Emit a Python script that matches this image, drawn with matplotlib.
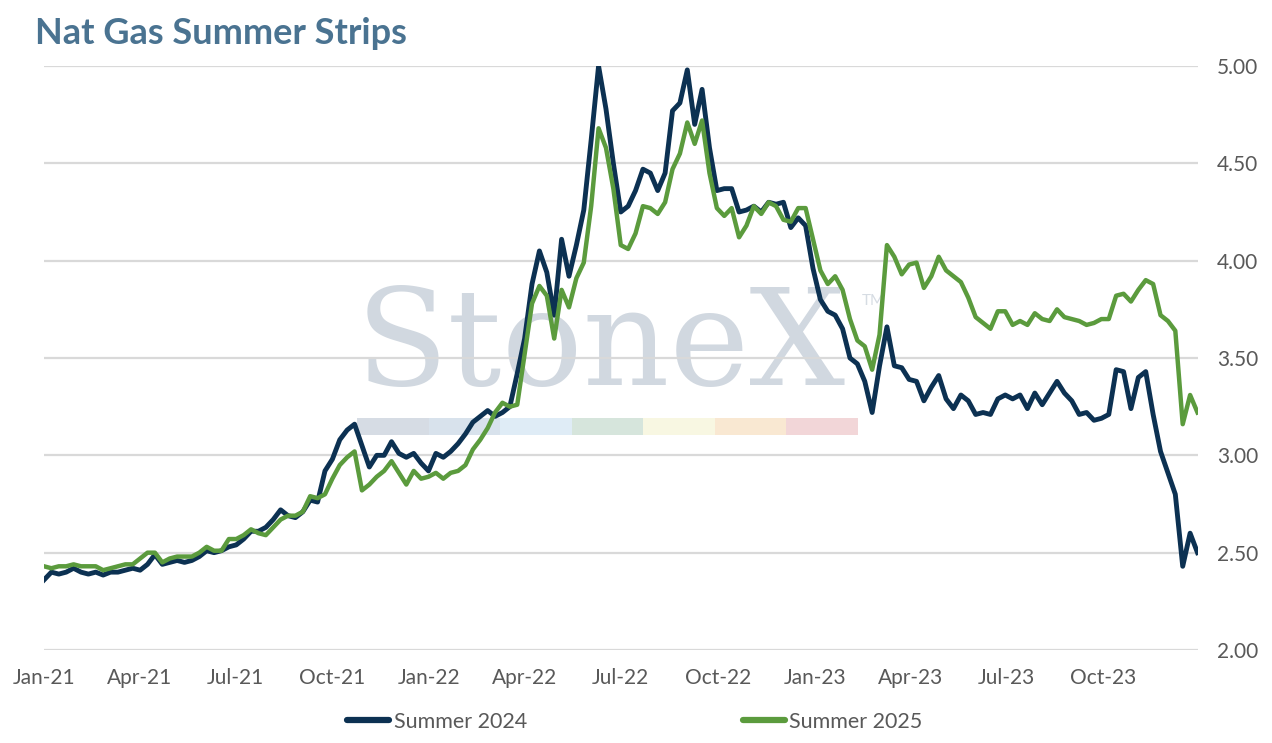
import matplotlib
matplotlib.use("Agg")
import matplotlib.pyplot as plt
import matplotlib.dates as mdates
from matplotlib.patches import Rectangle
import pandas as pd

# ---- data (weekly readings, Fridays starting 2021-01-01) ----
start_date = "2021-01-01"
summer_2024 = [
    2.36, 2.40, 2.39, 2.40, 2.42, 2.40, 2.39, 2.40, 2.385, 2.40,
    2.40, 2.41, 2.42, 2.41, 2.44, 2.49, 2.44, 2.45, 2.46, 2.45,
    2.46, 2.48, 2.51, 2.50, 2.51, 2.53, 2.54, 2.57, 2.61, 2.61,
    2.63, 2.67, 2.72, 2.69, 2.68, 2.71, 2.77, 2.76, 2.92, 2.98,
    3.08, 3.13, 3.16, 3.05, 2.94, 3.00, 3.00, 3.07, 3.01, 2.99,
    3.01, 2.96, 2.92, 3.01, 2.99, 3.02, 3.06, 3.11, 3.17, 3.20,
    3.23, 3.20, 3.22, 3.25, 3.42, 3.60, 3.88, 4.05, 3.94, 3.72,
    4.11, 3.92, 4.08, 4.26, 4.62, 5.00, 4.78, 4.50, 4.25, 4.28,
    4.36, 4.47, 4.45, 4.36, 4.45, 4.77, 4.81, 4.98, 4.70, 4.88,
    4.58, 4.36, 4.37, 4.37, 4.25, 4.26, 4.28, 4.25, 4.30, 4.29,
    4.30, 4.17, 4.22, 4.18, 3.96, 3.80, 3.74, 3.72, 3.65, 3.50,
    3.47, 3.38, 3.22, 3.46, 3.66, 3.46, 3.45, 3.39, 3.38, 3.28,
    3.35, 3.41, 3.29, 3.24, 3.31, 3.28, 3.21, 3.22, 3.21, 3.29,
    3.31, 3.29, 3.31, 3.24, 3.32, 3.26, 3.32, 3.38, 3.32, 3.28,
    3.21, 3.22, 3.18, 3.19, 3.21, 3.44, 3.43, 3.24, 3.40, 3.43,
    3.21, 3.02, 2.91, 2.80, 2.43, 2.60, 2.50,
]
summer_2025 = [
    2.43, 2.42, 2.43, 2.43, 2.44, 2.43, 2.43, 2.43, 2.41, 2.42,
    2.43, 2.44, 2.44, 2.47, 2.50, 2.50, 2.45, 2.47, 2.48, 2.48,
    2.48, 2.50, 2.53, 2.51, 2.51, 2.57, 2.57, 2.59, 2.62, 2.60,
    2.59, 2.63, 2.67, 2.69, 2.69, 2.71, 2.79, 2.78, 2.80, 2.88,
    2.95, 2.99, 3.02, 2.82, 2.85, 2.89, 2.92, 2.97, 2.91, 2.85,
    2.92, 2.88, 2.89, 2.91, 2.88, 2.91, 2.92, 2.95, 3.03, 3.08,
    3.14, 3.22, 3.27, 3.25, 3.26, 3.52, 3.78, 3.87, 3.82, 3.60,
    3.85, 3.76, 3.91, 3.99, 4.28, 4.68, 4.58, 4.37, 4.08, 4.06,
    4.14, 4.28, 4.27, 4.24, 4.30, 4.47, 4.55, 4.71, 4.60, 4.72,
    4.45, 4.27, 4.23, 4.27, 4.12, 4.18, 4.28, 4.24, 4.30, 4.28,
    4.21, 4.20, 4.27, 4.27, 4.11, 3.95, 3.88, 3.92, 3.85, 3.70,
    3.59, 3.56, 3.44, 3.62, 4.08, 4.02, 3.93, 3.98, 3.99, 3.86,
    3.92, 4.02, 3.95, 3.92, 3.89, 3.81, 3.71, 3.68, 3.65, 3.74,
    3.74, 3.67, 3.69, 3.67, 3.73, 3.70, 3.69, 3.75, 3.71, 3.70,
    3.69, 3.67, 3.68, 3.70, 3.70, 3.82, 3.83, 3.79, 3.85, 3.90,
    3.88, 3.72, 3.69, 3.64, 3.16, 3.31, 3.22,
]
series_names = ["Summer 2024", "Summer 2025"]
series_colors = ["#0c3152", "#5b9b3d"]
y_ticks = [2.00, 2.50, 3.00, 3.50, 4.00, 4.50, 5.00]
x_tick_start, x_tick_end = "2021-01-01", "2023-10-01"
title = "Nat Gas Summer Strips"
watermark = "StoneX"
band_colors = ["#d6dce4", "#d8e2ec", "#dfecf6", "#d6e5dc",
               "#f8f7e2", "#f9e8d2", "#f2d6d8"]

dates = pd.date_range(start_date, periods=len(summer_2024), freq="7D")

plt.rcParams["font.family"] = ["Lato", "DejaVu Sans"]

fig = plt.figure(figsize=(12.72, 7.43), dpi=100)
ax_w = 1197.5 - 44
ax = fig.add_axes([44 / 1272, 1 - 650 / 743, ax_w / 1272, (650 - 66) / 743])

# watermark
ax.text((601 - 44) / ax_w, (650 - 385) / 584, watermark, transform=ax.transAxes,
        ha="center", va="baseline", fontsize=97, family="DejaVu Serif",
        color="#d1d8e0", zorder=0.1)
ax.text((862 - 44) / ax_w, (650 - 305) / 584, "TM", transform=ax.transAxes,
        ha="left", va="baseline", fontsize=11, color="#d6dce3", zorder=0.1)
bw = (858 - 357) / len(band_colors) / ax_w
bx0 = (357 - 44) / ax_w
for i, c in enumerate(band_colors):
    ax.add_patch(Rectangle((bx0 + i * bw, (650 - 435) / 584), bw, 17 / 584,
                           transform=ax.transAxes, facecolor=c, edgecolor="none",
                           zorder=0.1))

ax.plot(dates, summer_2024, color=series_colors[0], lw=3.5, label=series_names[0],
        zorder=3, solid_joinstyle="round")
ax.plot(dates, summer_2025, color=series_colors[1], lw=3.2, label=series_names[1],
        zorder=4, solid_joinstyle="round")

ax.set_ylim(2.0, 5.0)
ax.set_xlim(dates[0], dates[-1])
ax.set_yticks(y_ticks)
ax.yaxis.set_major_formatter(matplotlib.ticker.FuncFormatter(lambda v, p: f"{v:.2f}"))
ax.yaxis.tick_right()
ax.set_xticks(pd.date_range(x_tick_start, x_tick_end, freq="QS"))
ax.xaxis.set_major_formatter(mdates.DateFormatter("%b-%y"))
ax.tick_params(axis="both", length=0, labelsize=15, labelcolor="#595959")
ax.tick_params(axis="y", pad=14)
ax.tick_params(axis="x", pad=13)
ax.grid(axis="y", color="#d9d9d9", lw=1.6, zorder=0.5)
ax.set_axisbelow(False)
for sp in ax.spines.values():
    sp.set_visible(False)
ax.patch.set_alpha(0)

fig.text(35 / 1272, 1 - 34 / 743, title, ha="left", va="center", fontsize=26,
         fontweight="bold", color="#4a7391")

leg = fig.legend(loc="center", bbox_to_anchor=(635 / 1272, 1 - 722 / 743), ncol=2,
                 frameon=False, fontsize=15.5, handlelength=1.95, handletextpad=0.22,
                 columnspacing=10.0)
for t in leg.get_texts():
    t.set_color("#595959")
for l in leg.get_lines():
    l.set_linewidth(4.5)
    l.set_solid_capstyle("round")

fig.savefig("out.png", dpi=100)
